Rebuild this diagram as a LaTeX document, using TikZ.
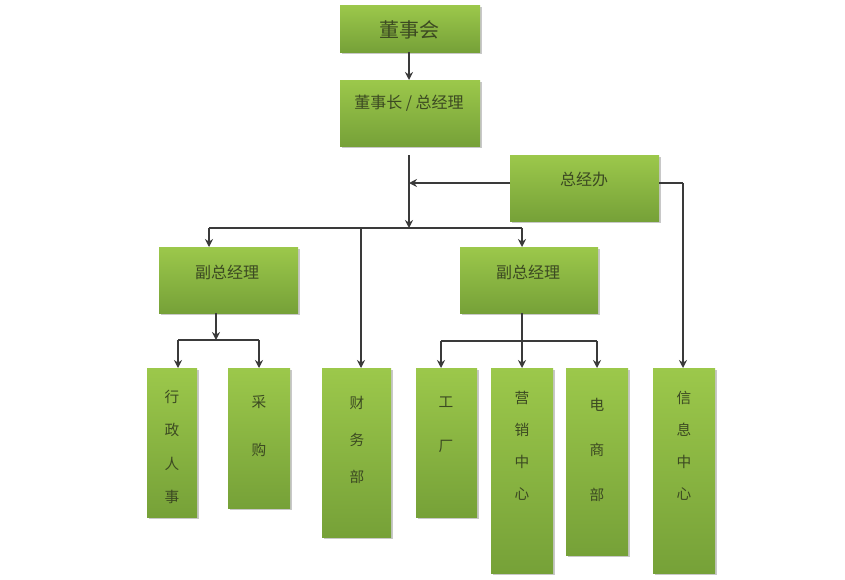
\documentclass[tikz,border=0pt]{standalone}
\usepackage{fontspec}
\newfontfamily\cjk{Noto Sans CJK SC}
\usetikzlibrary{arrows.meta,calc}
\definecolor{gtop}{HTML}{9CC84B}
\definecolor{gbot}{HTML}{76A138}
\definecolor{txtc}{HTML}{3C4A22}
\definecolor{linec}{HTML}{3A3A3A}
\definecolor{shadc}{HTML}{C8C8C8}
\tikzset{
  box/.style={draw=none, top color=gtop, bottom color=gbot, inner sep=0pt},
  shad/.style={fill=shadc},
  txt/.style={text=txtc, font=\cjk\fontsize{11}{13}\selectfont, inner sep=0pt},
  conn/.style={draw=linec, line width=1pt, -{Stealth[length=6pt,width=6pt]}},
  plain/.style={draw=linec, line width=1pt}
}
\newcommand{\mkbox}[5]{% name, x1, y1, x2, y2
  \path[shad] ({#2+1.5},{#3+1.5}) rectangle ({#4+1.5},{#5+1.5});
  \path[box] (#2,#3) rectangle (#4,#5);
  \coordinate (#1-nw) at (#2,#3);
  \coordinate (#1-se) at (#4,#5);
  \coordinate (#1) at ({(#2+#4)/2},{(#3+#5)/2});
  \coordinate (#1-n) at ({(#2+#4)/2},#3);
  \coordinate (#1-s) at ({(#2+#4)/2},#5);
}
\begin{document}
\begin{tikzpicture}[x=0.75pt,y=-0.75pt]
\useasboundingbox (0,0) rectangle (845,579);
% boxes
\mkbox{dsh}{340}{5}{480}{52}
\mkbox{zjl}{340}{80}{480}{146}
\mkbox{zjb}{510}{155}{659}{221}
\mkbox{fz1}{159}{247}{298}{313}
\mkbox{fz2}{460}{247}{598}{313}
\mkbox{xz}{147}{368}{197}{517}
\mkbox{cg}{228}{368}{290}{508}
\mkbox{cw}{322}{368}{391}{537}
\mkbox{gc}{416}{368}{477}{517}
\mkbox{yx}{491}{368}{553}{573}
\mkbox{ds}{566}{368}{628}{555}
\mkbox{xx}{653}{368}{715}{573}
% texts
\node[txt, font=\cjk\fontsize{15}{17}\selectfont] (t-dsh) at (409,30) {董事会};
\node[txt, font=\cjk\fontsize{12}{14}\selectfont] (t-zjl) at (409,103) {董事长 / 总经理};
\node[txt, font=\cjk\fontsize{12}{14}\selectfont] (t-zjb) at (584,179) {总经办};
\node[txt, font=\cjk\fontsize{12}{14}\selectfont] (t-fz1) at (227,272) {副总经理};
\node[txt, font=\cjk\fontsize{12}{14}\selectfont] (t-fz2) at (528,272) {副总经理};
\node[txt, align=center, font=\cjk\fontsize{11}{25}\selectfont] (t-xz) at (172,447) {行\\政\\人\\事};
\node[txt, align=center, font=\cjk\fontsize{11}{36}\selectfont] (t-cg) at (259,426) {采\\购};
\node[txt, align=center, font=\cjk\fontsize{11}{28}\selectfont] (t-cw) at (357,440) {财\\务\\部};
\node[txt, align=center, font=\cjk\fontsize{11}{33}\selectfont] (t-gc) at (446,425) {工\\厂};
\node[txt, align=center, font=\cjk\fontsize{11}{24}\selectfont] (t-yx) at (522,446) {营\\销\\中\\心};
\node[txt, align=center, font=\cjk\fontsize{11}{34}\selectfont] (t-ds) at (597,450) {电\\商\\部};
\node[txt, align=center, font=\cjk\fontsize{11}{24}\selectfont] (t-xx) at (684,446) {信\\息\\中\\心};
% junction coordinates
\coordinate (dshout) at (409,52);
\coordinate (zjlin) at (409,80);
\coordinate (vtop) at (409,155);
\coordinate (bar) at (409,228);
\coordinate (zjbarr) at (409,183);
\coordinate (barL) at (209,228);
\coordinate (barR) at (522,228);
\coordinate (barC) at (361,228);
\coordinate (xxcorner) at (683,183);
\coordinate (f1out) at (216,313);
\coordinate (f1bar) at (216,340);
\coordinate (f1L) at (178,340);
\coordinate (f1R) at (259,340);
\coordinate (f2out) at (522,313);
\coordinate (f2bar) at (522,341);
\coordinate (f2L) at (441,341);
\coordinate (f2R) at (597,341);
% connectors
\draw[conn] (dshout) -- (zjlin);
\draw[conn] (vtop) -- (bar);
\draw[conn] (zjb-nw |- zjbarr) -- (zjbarr);
\draw[plain] (barL) -- (barR);
\draw[conn] (barL) -- (barL |- fz1-n);
\draw[conn] (barR) -- (barR |- fz2-n);
\draw[conn] (barC) -- (barC |- cw-n);
\draw[plain] (zjb-se |- zjbarr) -- (xxcorner);
\draw[conn] (xxcorner) -- (xxcorner |- xx-n);
\draw[conn] (f1out) -- (f1bar);
\draw[plain] (f1L) -- (f1R);
\draw[conn] (f1L) -- (f1L |- xz-n);
\draw[conn] (f1R) -- (f1R |- cg-n);
\draw[plain] (f2out) -- (f2bar);
\draw[plain] (f2L) -- (f2R);
\draw[conn] (f2L) -- (f2L |- gc-n);
\draw[conn] (f2bar) -- (f2bar |- yx-n);
\draw[conn] (f2R) -- (f2R |- ds-n);
\end{tikzpicture}
\end{document}
